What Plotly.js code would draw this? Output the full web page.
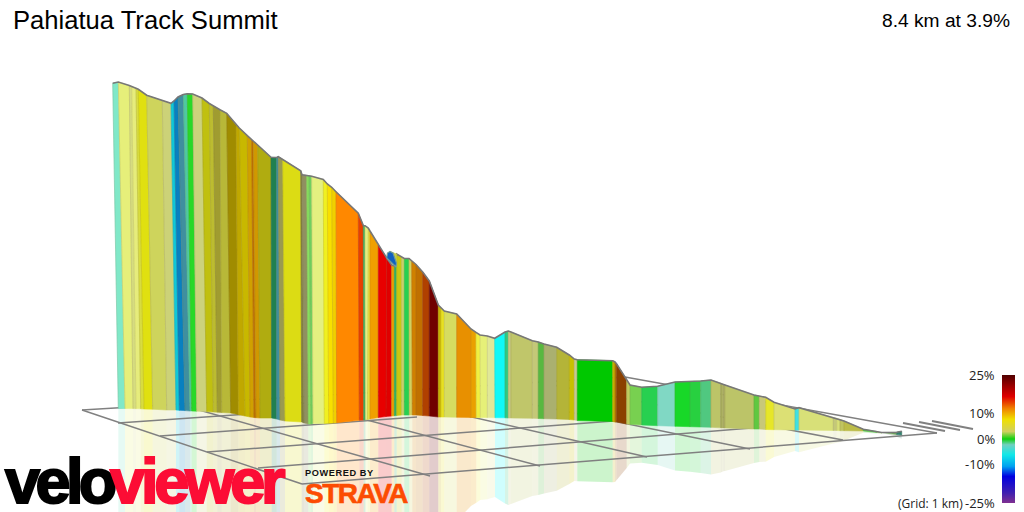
<!DOCTYPE html>
<html><head><meta charset="utf-8">
<script src="https://cdn.plot.ly/plotly-3.0.1.min.js"></script>
<style>html,body{margin:0;padding:0;background:#fff}#gd{width:1024px;height:512px}
text[data-unformatted="velo"]{letter-spacing:-4.6px;stroke:#000;stroke-width:2px}
text[data-unformatted="viewer"]{letter-spacing:-4.1px;stroke:#fc0d35;stroke-width:2px}
text[data-unformatted="POWERED BY"]{letter-spacing:0.6px}
text[data-unformatted="STRAVA"]{letter-spacing:-1.5px;stroke:#fc4c02;stroke-width:0.6px}
</style>
</head><body><div id="gd"></div>
<script>
const wallTopX=[112.7,118.3,129.3,131.7,136,138.3,146.7,162.3,171,174,178,183.3,187.3,192.7,202,209.3,213.3,220,226.7,236,239.3,247.3,251.7,253.3,257.7,271,276.7,278.3,282.7,300.7,302,306.7,309,311.7,323.3,327.3,331.7,336,358.3,363.3,365,368.3,370,378.3,386.7,391.7,394.3,396.7,401.7,404.3,409,411.7,416,422.7,429.3,438.3,441,444.3,456.7,471,476,480,487.3,494.7,505,508.3,511,532.3,538.3,544,556.7,569.3,574.3,577.3,612.7,615,616.7,626.7,630,641.7,657.7,675,690,700.7,711,720.7,722.3,723.3,725,754,759.3,765.7,774,795,799,833.3,836.7,840,844,863.3,876.7,881.7,896.7,901.7];
const wallTopY=[83.3,82,85.5,86.5,88.1,89.3,95.2,100.6,103.3,101,97,94.5,93.7,94,98,103.5,106,109.8,113.3,125,128,135.6,140,141.5,145,157.3,157.5,156.7,159.3,170.7,174.7,175.4,175.8,176.2,179.5,184,187.3,191.7,213.3,225.5,225.7,228,231,245,258,265,266,254,257.3,258.5,258.5,261,264.5,272,281,305,308,311,314,329,332.3,335,336,338.3,332,331,332,340.7,342,344,347.3,355,359,359.7,360.7,362,364,380,385,387.3,386.3,382,381.7,381,380,383.2,384,384.5,385,395,396,397.3,402.3,409,407.7,417.5,418.3,419.3,421,429.3,431.5,432.5,432.3,431.3];
const wallBaseX=[118.3,125,133,136,140.7,144,152.7,166.7,176,179.3,185,190,191.7,196.7,206.7,213.3,217.3,221.7,230.7,238.3,245,250,254,256,260,271.7,276.7,280,285,301.7,304,308.3,311,313,324.3,328.7,333.3,336.7,359.3,363.7,365.5,367.5,370,378.3,386,391.7,394.3,396.7,401.7,404.3,409.3,412.3,416,422.7,429.3,438.3,441,444.3,456.7,471,476.3,480.3,487.3,495,505,508.3,511,532.3,538.3,544,556.7,569.3,574.3,577.3,612.7,615,616.7,626.7,630,641.7,657.7,675,690,700.7,711,720.7,722.3,723.3,725,754,759.3,765.7,774,795,799,833.3,836.7,840,844,863.3,877,882,896.7,901.7];
const wallBaseY=[408.5,408.5,408.6,408.7,408.8,409,409.2,410,410,410.3,410.6,411,411,411.2,411.6,412,412.2,412.5,413,414.5,416,417,417.5,417.7,418,418,419,420,421,422,423,424,424,423.5,423.5,423.2,423,422.7,420.3,420,419.8,419.5,419,417.5,416.5,416,415.7,415.5,415,415,415,415,415,415.5,416,417,417,417,417.3,417.5,417.5,417.5,417.6,417.7,417.8,418,418,418.3,418.5,418.7,419,419.5,420,420.5,421.5,422,422,424,424.3,425,425.7,426.3,426.7,427,427.3,427.8,427.9,427.9,428,429,429,429.5,429.7,430,430,430.5,430.5,430.7,430.7,431,432.5,433,434.5,435];
const gradeColours=["#80e8c8","#e6ef7a","#d6dc80","#e6ec7c","#d8dc40","#e0e010","#ced45c","#ccd278","#10c8d8","#0880c0","#3f8f9f","#50c8a0","#28d828","#ccd27c","#c0c010","#bcbc30","#a09c30","#b8b838","#a08c00","#c0a800","#c8b800","#d0a000","#c07000","#d09800","#b0ac10","#208050","#4090a0","#9a9a50","#dcdc14","#808040","#909060","#88e060","#70d060","#e4f080","#f0f020","#f8e000","#f0d000","#ff8800","#e84000","#40b060","#e4ee80","#e8e040","#f0a000","#e80000","#e00000","#f0a000","#30b060","#c8c810","#d0d070","#28d050","#d0d060","#d08000","#c07000","#b04000","#700000","#c8b000","#e8e020","#d6dc60","#e89000","#eaa000","#f0f040","#e6f078","#e0e898","#10f8f8","#30c880","#c8c880","#c0c66a","#c4c878","#58b840","#aab070","#b4b438","#c8c000","#c8c890","#00c800","#c8b000","#b07000","#8b4000","#c0cc60","#78d050","#28d050","#80d8c4","#18d828","#28d040","#50c880","#bcc468","#a8ac60","#bcc468","#a8ac60","#bcc468","#60c840","#c8c878","#e6e628","#dce074","#40e0e0","#d8e078","#c4c878","#d8e078","#c0c460","#bcbc48","#50c040","#a0c870","#70a060","#308070"];
const hillBackX=[390,396.7,396.7,393], hillBackY=[251.5,254,267,258];
const hillStreakX=[386.7,387.5,390,393,396.5,396,393], hillStreakY=[258,253,251.5,253,263,267,264];
const gridBackX=[82,625], gridBackY=[410,377];
const gridLeftX=[82,302], gridLeftY=[410,484];
const gridRightX=[625,937], gridRightY=[377,433];
const gridFrontX=[302,937], gridFrontY=[484,433];
const gridDiagX=[[178,430],[284,540],[367,647],[452,750],[540,843]];
const gridDiagY=[[404,476],[398,466],[393,457],[388,449],[382.5,440]];
const gridCrossX=[[118,260],[160,417],[207,640],[258,790]];
const gridCrossY=[[423,413.3],[436,417],[452,419],[468,425]];
const streakX=[[903,945],[919,960],[932,973]];
const streakY=[[423,431],[422,430],[421,429]];
const scaleStops=[[0,"#803090"],[0.078,"#4020b0"],[0.208,"#0000e0"],[0.286,"#00a0f0"],[0.377,"#10e8e8"],[0.455,"#70d0c0"],[0.5,"#10d010"],[0.558,"#d0d060"],[0.654,"#f0e000"],[0.74,"#f08000"],[0.831,"#e00000"],[0.909,"#a00000"],[1,"#500000"]];
const titleText="Pahiatua Track Summit", summaryText="8.4 km at 3.9%";
const gradeLabels=["25%","10%","0%","-10%","-25%"], gradeLabelY=[375,413,439,464,503];

const traces=[];
const n=gradeColours.length;
for(let i=0;i<n;i++){
  const mirror=j=>2*wallBaseY[j]-wallTopY[j];
  traces.push({type:'scatter',mode:'lines',x:[wallBaseX[i],wallBaseX[i+1],wallBaseX[i+1],wallBaseX[i],wallBaseX[i]],y:[wallBaseY[i],wallBaseY[i+1],mirror(i+1),mirror(i),wallBaseY[i]],fill:'toself',fillcolor:gradeColours[i],opacity:0.2,line:{width:0,color:gradeColours[i]},hoverinfo:'skip'});
}
const gridLine=(x,y,w=1.5)=>traces.push({type:'scatter',mode:'lines',x,y,line:{color:'#808080',width:w},hoverinfo:'skip'});
gridLine(gridBackX,gridBackY);gridLine(gridLeftX,gridLeftY);gridLine(gridRightX,gridRightY);gridLine(gridFrontX,gridFrontY);
gridDiagX.forEach((x,i)=>gridLine(x,gridDiagY[i]));
gridCrossX.forEach((x,i)=>gridLine(x,gridCrossY[i]));
streakX.forEach((x,i)=>gridLine(x,streakY[i],2.2));
for(let i=0;i<n;i++){
  traces.push({type:'scatter',mode:'lines',x:[wallTopX[i],wallTopX[i+1],wallBaseX[i+1],wallBaseX[i],wallTopX[i]],y:[wallTopY[i],wallTopY[i+1],wallBaseY[i+1],wallBaseY[i],wallTopY[i]],fill:'toself',fillcolor:gradeColours[i],line:{width:0.6,color:gradeColours[i]},hoverinfo:'skip'});
}
const seamX=[],seamY=[];
for(let i=0;i<=n;i++){seamX.push(wallTopX[i],wallBaseX[i],null);seamY.push(wallTopY[i],wallBaseY[i],null);}
traces.push({type:'scatter',mode:'lines',x:seamX,y:seamY,connectgaps:false,line:{color:'rgba(110,100,60,0.16)',width:1},hoverinfo:'skip'});
traces.push({type:'scatter',mode:'lines',x:wallTopX,y:wallTopY,line:{color:'#777777',width:1.6},hoverinfo:'skip'});
traces.push({type:'scatter',mode:'lines',x:hillBackX.concat(hillBackX[0]),y:hillBackY.concat(hillBackY[0]),fill:'toself',fillcolor:'#c8d040',line:{width:0.6,color:'#c8d040'},hoverinfo:'skip'});
traces.push({type:'scatter',mode:'lines',x:hillStreakX.concat(hillStreakX[0]),y:hillStreakY.concat(hillStreakY[0]),fill:'toself',fillcolor:'#1060c0',line:{width:1.2,color:'#6f9a9a'},hoverinfo:'skip'});
const rows=128, kY=[],kZ=[];
for(let i=0;i<=rows;i++)kY.push(375+i);
for(let i=0;i<rows;i++)kZ.push([1-(i+0.5)/rows]);
traces.push({type:'heatmap',x:[1002,1015],y:kY,z:kZ,zmin:0,zmax:1,colorscale:scaleStops,showscale:false,hoverinfo:'skip'});

const sans='"Liberation Sans",Arial,sans-serif';
const label=(x,y,text,size,color,opts={})=>Object.assign({xref:'x',yref:'y',x,y,text,showarrow:false,xanchor:'left',yanchor:'middle',font:{family:'"Open Sans",sans-serif',size,color}},opts);
const annotations=[
 label(1012,20,summaryText,19.2,'#000',{xanchor:'right',font:{family:sans,size:19.2,color:'#000'}}),
 ...gradeLabels.map((t,i)=>label(997,gradeLabelY[i],t,13,'#222',{xanchor:'right'})),
 label(896,503,'(Grid: 1 km)',12,'#222'),
 label(3,480.5,'velo',63,'#000',{font:{family:sans,size:63,color:'#000',weight:700}}),
 label(108,480.5,'viewer',63,'#fc0d35',{font:{family:sans,size:63,color:'#fc0d35',weight:700}}),
 label(303,473,'POWERED BY',9.2,'#111',{font:{family:sans,size:9.2,color:'#111',weight:700}}),
 label(303,493,'STRAVA',28,'#fc4c02',{font:{family:sans,size:28,color:'#fc4c02',weight:700}})
];
const layout={width:1024,height:512,margin:{l:0,r:0,t:0,b:0},paper_bgcolor:'#fff',plot_bgcolor:'#fff',showlegend:false,
 title:{text:titleText,x:13/1024,xanchor:'left',xref:'container',y:1-20/512,yanchor:'middle',yref:'container',font:{family:sans,size:25.6,color:'#000'}},
 xaxis:{range:[0,1024],visible:false,fixedrange:true},
 yaxis:{range:[512,0],visible:false,fixedrange:true},
 annotations};
Plotly.newPlot('gd',traces,layout,{staticPlot:true,displayModeBar:false});
</script></body></html>
